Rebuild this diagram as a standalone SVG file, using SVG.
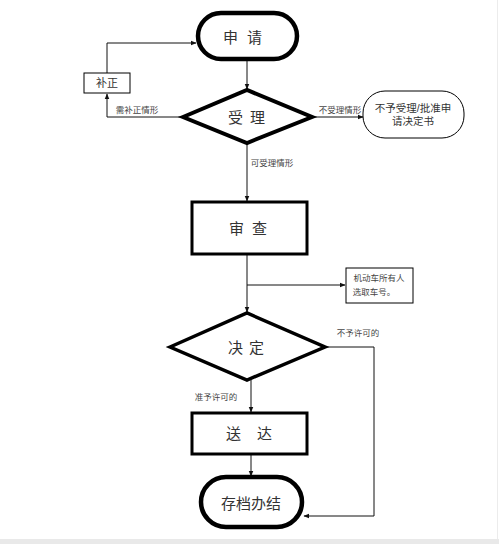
<svg xmlns="http://www.w3.org/2000/svg" width="499" height="544" viewBox="0 0 499 544">
<style>
.t{font-family:"Liberation Sans","Noto Sans CJK SC",sans-serif;fill:#333;text-anchor:middle;dominant-baseline:central}
.big{font-size:15px}
.mid{font-size:11px}
.sm{font-size:8.5px;fill:#444}
.ln{fill:none;stroke:#111;stroke-width:1}
.nd{fill:#fff;stroke:#000}
</style>
<defs>
<marker id="ar" viewBox="0 0 10 10" refX="9" refY="5" markerWidth="6" markerHeight="6" orient="auto" markerUnits="userSpaceOnUse">
<path d="M0,1 L10,5 L0,9 z" fill="#111"/>
</marker>
</defs>
<rect x="0" y="0" width="499" height="544" fill="#fff"/>
<rect x="0" y="539" width="499" height="5" fill="#e9e9e9"/>
<line x1="497.5" y1="0" x2="497.5" y2="539" stroke="#ececec" stroke-width="1"/>
<g id="connectors">
<path class="ln" d="M247,61 V89" marker-end="url(#ar)"/>
<path class="ln" d="M183,117 H107 V94" marker-end="url(#ar)"/>
<path class="ln" d="M107,73 V43 H196" marker-end="url(#ar)"/>
<path class="ln" d="M312,117 H363" marker-end="url(#ar)"/>
<path class="ln" d="M247,143 V201" marker-end="url(#ar)"/>
<path class="ln" d="M247,255 V312" marker-end="url(#ar)"/>
<path class="ln" d="M247,285 H345" marker-end="url(#ar)"/>
<path class="ln" d="M325,347 H374 V516 H304" marker-end="url(#ar)"/>
<path class="ln" d="M251,380 V412" marker-end="url(#ar)"/>
<path class="ln" d="M251,455 V476" marker-end="url(#ar)"/>
<text class="t sm" x="137" y="110">需补正情形</text>
<text class="t sm" x="340" y="110">不受理情形</text>
<text class="t sm" x="272" y="163">可受理情形</text>
<text class="t sm" x="358" y="333">不予许可的</text>
<text class="t sm" x="216" y="397">准予许可的</text>
</g>
<g id="n-apply">
<rect class="nd" x="198" y="13" width="99" height="46" rx="23" stroke-width="4.5"/>
<text class="t big" x="247" y="37" letter-spacing="9">申请</text>
</g>
<g id="n-correct">
<rect class="nd" x="84" y="73" width="46" height="20" stroke-width="1"/>
<text class="t mid" x="107" y="83">补正</text>
</g>
<g id="n-accept">
<polygon class="nd" points="183,117 247,90 312,117 247,143" stroke-width="4"/>
<text class="t big" x="250" y="117" font-size="16" letter-spacing="7">受理</text>
</g>
<g id="n-reject">
<rect class="nd" x="363" y="91" width="101" height="47" rx="22" stroke-width="1"/>
<text class="t" x="413" y="108" font-size="10.5">不予受理/批准申</text>
<text class="t" x="413" y="121" font-size="10.5">请决定书</text>
</g>
<g id="n-review">
<rect class="nd" x="192" y="202" width="115" height="52" stroke-width="3"/>
<text class="t big" x="252" y="228" letter-spacing="8">审查</text>
</g>
<g id="n-plate">
<rect class="nd" x="346" y="268" width="67" height="35" stroke="#444" stroke-width="1"/>
<text class="t sm" x="379" y="278">机动车所有人</text>
<text class="t sm" x="374" y="292">选取车号。</text>
</g>
<g id="n-decide">
<polygon class="nd" points="170,347 247,313 325,347 247,380" stroke-width="3.5"/>
<text class="t big" x="249" y="347" letter-spacing="6">决定</text>
</g>
<g id="n-deliver">
<rect class="nd" x="192" y="413" width="115" height="41" stroke-width="3"/>
<text class="t big" x="257" y="433" letter-spacing="16">送达</text>
</g>
<g id="n-archive">
<rect class="nd" x="201" y="477" width="101" height="50" rx="25" stroke-width="4.5"/>
<text class="t big" x="251" y="503">存档办结</text>
</g>
</svg>
